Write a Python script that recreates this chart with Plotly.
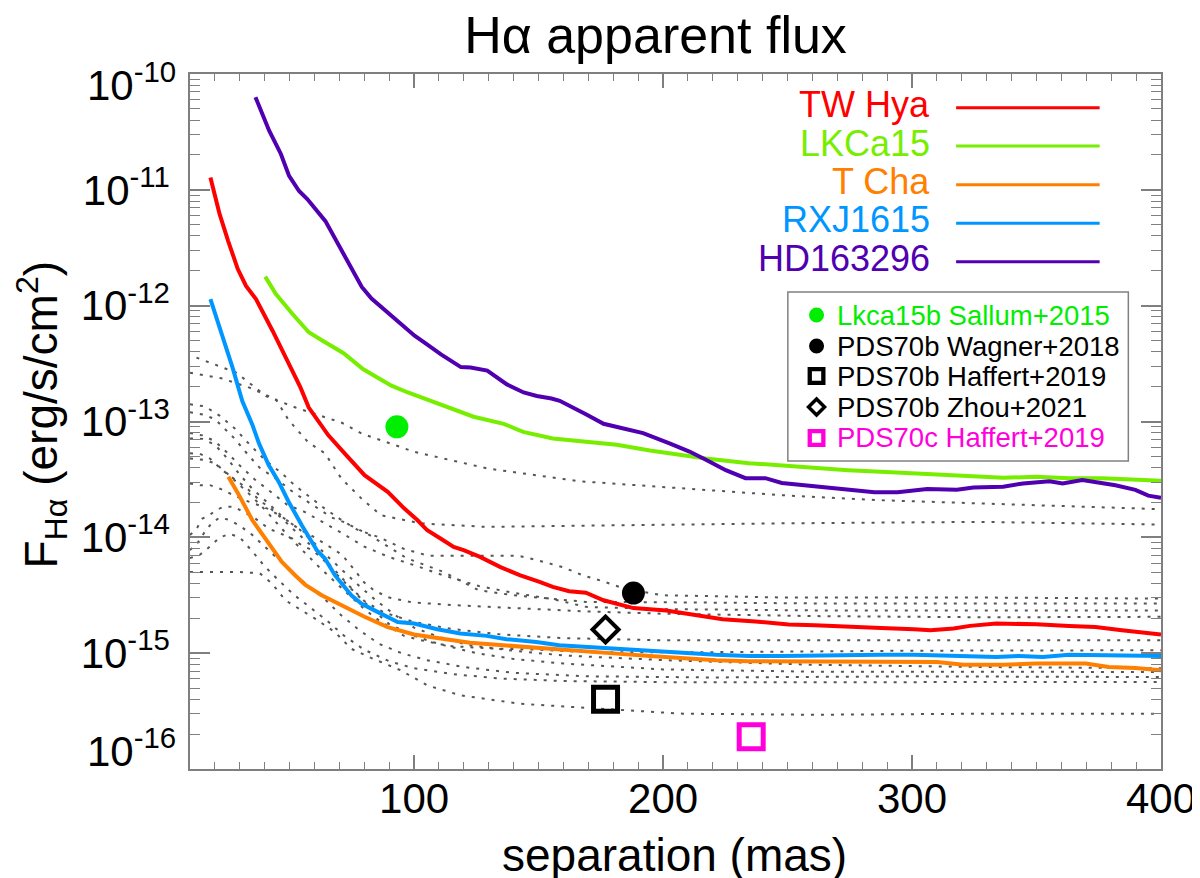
import plotly.graph_objects as go

FONT = "Liberation Sans, Arial, Helvetica, sans-serif"

# ---------------- data: separation (mas) / apparent H-alpha flux (erg/s/cm^2) -------------
tw_sep = [18.2, 21.9, 25.3, 29.2, 32.5, 36.5, 43.2, 49.8, 54.4, 57.7, 62.4, 65.5, 72.1, 80.1,
          89.4, 96.0, 101.3, 105.3, 110.6, 115.9, 119.9, 126.5, 134.5, 142.4, 150.4, 155.7,
          162.3, 169.0, 176.1, 188.1, 201.3, 211.9, 223.9, 237.1, 250.4, 261.0, 274.3, 287.5,
          300.8, 307.4, 316.7, 323.3, 333.9, 349.9, 363.1, 373.7, 384.3, 400]
tw_flux = [1.28e-11, 6.17e-12, 3.63e-12, 2.07e-12, 1.48e-12, 1.14e-12, 6.05e-13, 3.12e-13,
           1.96e-13, 1.32e-13, 9.44e-14, 7.64e-14, 5.31e-14, 3.44e-14, 2.47e-14, 1.78e-14,
           1.41e-14, 1.15e-14, 9.77e-15, 8.28e-15, 7.74e-15, 6.78e-15, 5.56e-15, 4.71e-15,
           4.12e-15, 3.73e-15, 3.43e-15, 3.33e-15, 2.86e-15, 2.45e-15, 2.34e-15, 2.15e-15,
           1.96e-15, 1.88e-15, 1.77e-15, 1.74e-15, 1.68e-15, 1.65e-15, 1.61e-15, 1.58e-15,
           1.63e-15, 1.72e-15, 1.80e-15, 1.78e-15, 1.72e-15, 1.68e-15, 1.58e-15, 1.45e-15]

lk_sep = [40.2, 44.5, 51.1, 57.7, 63.1, 71.7, 79.6, 90.9, 97.5, 102.8, 114.8, 123.9, 136.0,
          143.8, 155.7, 168.2, 181.4, 194.7, 208.0, 217.2, 234.5, 247.7, 261.0, 274.3, 287.5,
          300.8, 314.1, 323.3, 336.6, 349.9, 363.1, 376.4, 389.7, 400]
lk_flux = [1.78e-12, 1.26e-12, 8.51e-13, 5.89e-13, 5.01e-13, 3.89e-13, 2.82e-13, 2.04e-13,
           1.78e-13, 1.62e-13, 1.32e-13, 1.10e-13, 9.55e-14, 8.13e-14, 7.14e-14, 6.76e-14,
           6.31e-14, 5.62e-14, 5.13e-14, 4.79e-14, 4.37e-14, 4.17e-14, 3.94e-14, 3.80e-14,
           3.68e-14, 3.56e-14, 3.47e-14, 3.33e-14, 3.27e-14, 3.33e-14, 3.24e-14, 3.24e-14,
           3.12e-14, 3.08e-14]

tc_sep = [25.4, 29.7, 35.0, 40.3, 46.9, 52.2, 56.2, 62.9, 70.8, 80.1, 89.4, 100, 109.3, 122.5,
          135.8, 149.1, 162.3, 169, 181.4, 194.7, 207.9, 221.2, 234.5, 247.7, 261, 274.3,
          287.5, 300.8, 310.1, 320.7, 336.6, 349.9, 363.1, 369.8, 379.0, 389.7, 400]
tc_flux = [3.33e-14, 2.31e-14, 1.41e-14, 9.77e-15, 6.14e-15, 4.71e-15, 3.91e-15, 3.16e-15,
           2.59e-15, 2.06e-15, 1.68e-15, 1.45e-15, 1.35e-15, 1.23e-15, 1.17e-15, 1.11e-15,
           1.06e-15, 1.04e-15, 9.91e-16, 9.46e-16, 9.08e-16, 8.67e-16, 8.51e-16, 8.51e-16,
           8.39e-16, 8.51e-16, 8.39e-16, 8.39e-16, 8.39e-16, 7.96e-16, 7.96e-16, 8.13e-16,
           8.13e-16, 8.13e-16, 7.59e-16, 7.45e-16, 7.11e-16]

rx_sep = [18.2, 21.9, 27.1, 31.0, 35.0, 37.7, 41.6, 45.6, 49.6, 54.9, 60.9, 64.2, 68.2, 74.8,
          78.8, 84.1, 89.4, 93.4, 100, 109.3, 118.6, 129.2, 137.1, 149.1, 158.3, 169, 181.4,
          194.7, 207.9, 221.2, 234.5, 247.7, 261.0, 274.3, 287.5, 300.8, 314.1, 323.3, 333.9,
          343.2, 352.5, 363.1, 376.4, 389.7, 400]
rx_flux = [1.14e-12, 6.46e-13, 2.92e-13, 1.50e-13, 9.44e-14, 6.47e-14, 4.21e-14, 3.02e-14,
           2.03e-14, 1.27e-14, 7.76e-15, 6.56e-15, 4.71e-15, 3.16e-15, 2.68e-15, 2.34e-15,
           2.06e-15, 1.86e-15, 1.80e-15, 1.61e-15, 1.48e-15, 1.41e-15, 1.32e-15, 1.25e-15,
           1.17e-15, 1.13e-15, 1.08e-15, 1.04e-15, 1.01e-15, 9.70e-16, 9.46e-16, 9.46e-16,
           9.59e-16, 9.70e-16, 9.70e-16, 9.70e-16, 9.59e-16, 9.46e-16, 9.27e-16, 9.46e-16,
           9.27e-16, 9.70e-16, 9.59e-16, 9.46e-16, 9.46e-16]

hd_sep = [36.3, 41.8, 46.5, 49.8, 53.8, 57.1, 64.4, 71.0, 79.0, 82.9, 89.6, 94.9, 100.2, 104.2,
          110.8, 118.8, 122.7, 129.4, 137.3, 144.0, 149.3, 155.2, 158.5, 169.2, 176.1, 184.1,
          192.0, 202.6, 210.6, 217.2, 225.2, 233.1, 241.1, 247.7, 261.0, 274.3, 284.9, 294.2,
          306.1, 318.0, 324.7, 336.6, 344.6, 355.2, 360.5, 368.4, 376.4, 381.7, 389.7, 394.9, 400]
hd_flux = [6.31e-11, 3.24e-11, 2.04e-11, 1.32e-11, 9.77e-12, 8.32e-12, 5.37e-12, 2.95e-12,
           1.45e-12, 1.15e-12, 8.71e-13, 6.92e-13, 5.50e-13, 4.79e-13, 3.80e-13, 2.95e-13,
           2.92e-13, 2.75e-13, 2.09e-13, 1.78e-13, 1.66e-13, 1.58e-13, 1.51e-13, 1.15e-13,
           9.55e-14, 8.71e-14, 7.94e-14, 6.46e-14, 5.50e-14, 4.68e-14, 3.80e-14, 3.24e-14,
           3.24e-14, 2.95e-14, 2.75e-14, 2.57e-14, 2.45e-14, 2.45e-14, 2.61e-14, 2.57e-14,
           2.69e-14, 2.74e-14, 2.92e-14, 3.05e-14, 2.92e-14, 3.12e-14, 2.92e-14, 2.82e-14,
           2.57e-14, 2.29e-14, 2.19e-14]

# background (dotted) contrast curves of other targets
bg1_sep = [12.6, 28.6, 40.5, 52.4, 71.0, 78.8, 100, 129.2, 166.3, 208, 247.7, 287.5, 327.3, 400]
bg1_flux = [3.56e-13, 2.64e-13, 1.66e-13, 1.32e-13, 9.75e-14, 7.89e-14, 5.48e-14, 3.94e-14,
            3.05e-14, 2.64e-14, 2.31e-14, 2.09e-14, 1.96e-14, 1.75e-14]
bg2_sep = [10, 22.6, 33.9, 44.5, 49.6, 57.5, 64.2, 70.8, 78.8, 86.7, 102.6, 129.2, 167.6, 247.7,
           327.3, 400]
bg2_flux = [2.64e-13, 2.36e-13, 1.96e-13, 1.55e-13, 1.03e-13, 6.61e-14, 5.31e-14, 3.22e-14,
            2.17e-14, 1.55e-14, 1.32e-14, 1.23e-14, 1.26e-14, 1.32e-14, 1.36e-14, 1.29e-14]
bg3_sep = [10, 16, 22, 28, 34, 40, 47, 52, 58, 64, 70, 77, 86, 96, 106, 118, 130, 142, 150, 160,
           168, 176, 184, 200, 250, 330, 400]
bg3_flux = [1.41e-13, 1.35e-13, 1.12e-13, 8.71e-14, 6.31e-14, 4.68e-14, 3.55e-14, 2.82e-14,
            2.24e-14, 1.78e-14, 1.45e-14, 1.17e-14, 1.00e-14, 7.94e-15, 6.92e-15, 6.92e-15,
            6.92e-15, 6.92e-15, 6.31e-15, 5.50e-15, 4.68e-15, 4.17e-15, 3.63e-15, 3.16e-15,
            3.02e-15, 3.02e-15, 2.96e-15]
bg4_sep = [10, 15, 20, 24, 28, 33, 38, 45, 52, 60, 67, 72, 82, 97, 112, 126, 140, 155, 169, 200,
           260, 330, 400]
bg4_flux = [1.20e-13, 1.15e-13, 1.05e-13, 8.71e-14, 7.08e-14, 5.25e-14, 3.98e-14, 3.16e-14,
            2.40e-14, 1.86e-14, 1.48e-14, 1.35e-14, 1.05e-14, 6.61e-15, 5.01e-15, 3.49e-15,
            3.16e-15, 2.95e-15, 2.77e-15, 2.75e-15, 2.69e-15, 2.69e-15, 2.68e-15]
bg5_sep = [10, 15, 20, 25, 30, 36, 42, 49, 56, 62, 70, 80, 90, 100, 112, 126, 140, 155, 169, 200,
           260, 330, 400]
bg5_flux = [7.94e-14, 7.59e-14, 6.76e-14, 5.37e-14, 4.17e-14, 3.16e-14, 2.51e-14, 1.91e-14,
            1.66e-14, 1.41e-14, 1.12e-14, 8.32e-15, 6.76e-15, 5.75e-15, 4.68e-15, 3.80e-15,
            3.31e-15, 2.95e-15, 2.51e-15, 2.40e-15, 2.34e-15, 2.34e-15, 2.34e-15]
bg6_sep = [10, 15, 20, 25, 30, 35, 41, 48, 54, 60, 66, 71, 76, 80, 84, 90, 99, 112, 130, 150,
           170, 200, 260, 330, 400]
bg6_flux = [7.14e-14, 7.08e-14, 6.31e-14, 4.79e-14, 3.47e-14, 2.63e-14, 2.00e-14, 1.45e-14,
            1.17e-14, 1.00e-14, 8.32e-15, 7.08e-15, 5.25e-15, 4.07e-15, 3.47e-15, 3.02e-15,
            2.75e-15, 2.63e-15, 2.51e-15, 2.40e-15, 2.29e-15, 2.19e-15, 2.09e-15, 2.04e-15,
            2.06e-15]
bg7_sep = [10, 14, 18, 23, 28, 33, 38, 44, 50, 56, 62, 68, 74, 80, 88, 100, 115, 135, 160, 200,
           260, 330, 400]
bg7_flux = [5.31e-14, 5.25e-14, 4.79e-14, 3.80e-14, 3.16e-14, 2.63e-14, 2.09e-14, 1.66e-14,
            1.26e-14, 9.55e-15, 7.24e-15, 5.25e-15, 3.80e-15, 2.82e-15, 2.24e-15, 1.86e-15,
            1.62e-15, 1.45e-15, 1.35e-15, 1.29e-15, 1.29e-15, 1.30e-15, 1.29e-15]
bg8_sep = [10, 15, 20, 25, 30, 35, 40, 45, 50, 56, 62, 68, 74, 80, 86, 96, 105, 115, 130, 150,
           170, 220, 300, 400]
bg8_flux = [4.79e-14, 4.68e-14, 4.37e-14, 3.55e-14, 2.82e-14, 2.24e-14, 1.74e-14, 1.32e-14,
            1.00e-14, 7.41e-15, 5.50e-15, 4.17e-15, 3.16e-15, 2.40e-15, 1.91e-15, 1.41e-15,
            1.26e-15, 1.15e-15, 1.10e-15, 1.07e-15, 1.02e-15, 1.02e-15, 1.05e-15, 1.06e-15]
bg9_sep = [10, 14, 18, 22, 27, 32, 36, 42, 48, 54, 60, 66, 72, 78, 85, 93, 100, 110, 122, 140,
           160, 200, 260, 330, 400]
bg9_flux = [2.92e-14, 2.82e-14, 2.82e-14, 2.63e-14, 2.34e-14, 2.09e-14, 1.95e-14, 1.74e-14,
            1.45e-14, 1.17e-14, 8.91e-15, 6.61e-15, 5.01e-15, 3.80e-15, 2.82e-15, 2.09e-15,
            1.66e-15, 1.38e-15, 1.17e-15, 1.05e-15, 9.55e-16, 8.71e-16, 7.94e-16, 7.59e-16,
            7.41e-16]
bg10_sep = [10, 12.5, 15, 17.8, 20.4, 23.7, 27.7, 31.7, 36.3, 41.6, 47, 51, 55, 59, 63, 68, 75,
            82, 90, 100, 110, 125, 140, 160, 200, 260, 330, 400]
bg10_flux = [1.05e-14, 1.17e-14, 1.45e-14, 1.55e-14, 1.72e-14, 1.84e-14, 1.84e-14, 1.66e-14,
             1.45e-14, 1.19e-14, 1.07e-14, 9.77e-15, 8.51e-15, 7.76e-15, 6.61e-15, 5.01e-15,
             3.55e-15, 2.51e-15, 1.78e-15, 1.41e-15, 1.20e-15, 1.00e-15, 8.91e-16, 8.13e-16,
             7.24e-16, 6.92e-16, 6.92e-16, 6.87e-16]
bg11_sep = [10, 13, 16, 19, 22, 26, 30, 35, 40, 46, 52, 58, 64, 70, 78, 86, 95, 105, 120, 140,
            170, 220, 300, 400]
bg11_flux = [7.76e-15, 8.91e-15, 1.12e-14, 1.35e-14, 1.48e-14, 1.41e-14, 1.26e-14, 1.05e-14,
             8.32e-15, 6.31e-15, 4.79e-15, 3.72e-15, 2.95e-15, 2.19e-15, 1.58e-15, 1.20e-15,
             1.00e-15, 8.71e-16, 7.59e-16, 6.76e-16, 6.31e-16, 6.17e-16, 6.31e-16, 6.22e-16]
bg12_sep = [10, 14, 18, 22, 26, 30, 35, 40, 46, 52, 58, 65, 72, 80, 90, 100, 115, 135, 160, 200,
            280, 400]
bg12_flux = [6.61e-15, 7.08e-15, 8.32e-15, 1.00e-14, 1.07e-14, 1.00e-14, 7.59e-15, 5.62e-15,
             4.17e-15, 3.16e-15, 2.51e-15, 1.91e-15, 1.41e-15, 1.07e-15, 8.51e-16, 7.41e-16,
             6.61e-16, 6.03e-16, 5.75e-16, 5.62e-16, 5.62e-16, 5.64e-16]
bg13_sep = [10, 20, 30, 38, 43, 48.3, 54, 60.2, 68.2, 74.8, 83.4, 94.7, 105.3, 118.6, 142.4, 169,
            208, 261, 327.3, 400]
bg13_flux = [5.01e-15, 5.01e-15, 5.01e-15, 4.90e-15, 3.98e-15, 2.86e-15, 2.40e-15, 1.99e-15,
             1.52e-15, 1.09e-15, 8.97e-16, 7.11e-16, 5.27e-16, 4.33e-16, 3.66e-16, 3.36e-16,
             3.00e-16, 2.94e-16, 3.00e-16, 3.00e-16]

# companion detections
pt_names = ["Lkca15b Sallum+2015", "PDS70b Wagner+2018", "PDS70b Haffert+2019",
            "PDS70b Zhou+2021", "PDS70c Haffert+2019"]
pt_sep = [93.1, 188.1, 176.9, 176.9, 235.4]
pt_flux = [9.0e-14, 3.3e-15, 4.0e-16, 1.6e-15, 1.9e-16]

curve_names = ["TW Hya", "LKCa15", "T Cha", "RXJ1615", "HD163296"]
y_tick_vals = [1e-16, 1e-15, 1e-14, 1e-13, 1e-12, 1e-11, 1e-10]
y_tick_text = ["", "10<sup>-15</sup>", "10<sup>-14</sup>", "10<sup>-13</sup>",
               "10<sup>-12</sup>", "10<sup>-11</sup>", ""]
x_tick_vals = [100, 200, 300, 400]
x_tick_text = ["100", "200", "300", "400"]

# ---------------- styling ----------------
C_RED, C_LIME, C_ORANGE, C_BLUE, C_PURPLE = "#ff0000", "#77ee00", "#ff8000", "#0096ff", "#5000b0"
curve_colors = [C_RED, C_LIME, C_ORANGE, C_BLUE, C_PURPLE]
pt_colors = ["#00ee00", "black", "black", "black", "#ff00dd"]
pt_symbols = ["circle", "circle", "square-open", "diamond-open", "square-open"]
pt_sizes = [23, 23, 24, 20, 24]
AX = "#7f7f7f"

W, H = 1200, 878
ML, MR, MT, MB = 182, 37, 66, 117
PW, PH = W - ML - MR, H - MT - MB


def fx(px):
    return (px - ML) / PW


def fy(py):
    return (MT + PH - py) / PH


fig = go.Figure()

bg_sets = [(bg1_sep, bg1_flux), (bg2_sep, bg2_flux), (bg3_sep, bg3_flux), (bg4_sep, bg4_flux),
           (bg5_sep, bg5_flux), (bg6_sep, bg6_flux), (bg7_sep, bg7_flux), (bg8_sep, bg8_flux),
           (bg9_sep, bg9_flux), (bg10_sep, bg10_flux), (bg11_sep, bg11_flux),
           (bg12_sep, bg12_flux), (bg13_sep, bg13_flux)]
for sx, sy in bg_sets:
    fig.add_trace(go.Scatter(x=sx, y=sy, mode="lines", showlegend=False, hoverinfo="skip",
                             line=dict(color="#555555", width=2, dash="3px,7px")))

main_sets = [(tw_sep, tw_flux), (lk_sep, lk_flux), (tc_sep, tc_flux), (rx_sep, rx_flux),
             (hd_sep, hd_flux)]
for (sx, sy), nm, col in zip(main_sets, curve_names, curve_colors):
    fig.add_trace(go.Scatter(x=sx, y=sy, mode="lines", name=nm, showlegend=False,
                             line=dict(color=col, width=4)))

for i in range(len(pt_names)):
    open_sym = pt_symbols[i].endswith("open")
    fig.add_trace(go.Scatter(
        x=[pt_sep[i]], y=[pt_flux[i]], mode="markers", name=pt_names[i], showlegend=False,
        marker=dict(symbol=pt_symbols[i], size=pt_sizes[i], color=pt_colors[i],
                    line=dict(width=5 if pt_symbols[i] == "square-open" else (4 if open_sym else 0),
                              color=pt_colors[i]))))

annotations = []
shapes = []

# line legend (text on the left, sample line on the right)
row_text_y = [97, 135, 173.5, 211.5, 250]
row_line_y = [99.7, 138, 176.7, 215.3, 253.7]
for nm, col, ty, ly in zip(curve_names, curve_colors, row_text_y, row_line_y):
    annotations.append(dict(xref="paper", yref="paper", x=fx(932), y=fy(ty), xanchor="right",
                            yanchor="middle", text=nm, showarrow=False,
                            font=dict(family=FONT, size=36, color=col)))
    shapes.append(dict(type="line", xref="paper", yref="paper", x0=fx(956), x1=fx(1101),
                       y0=fy(ly), y1=fy(ly), line=dict(color=col, width=3)))

# symbol legend box
shapes.append(dict(type="rect", xref="paper", yref="paper", x0=fx(786), x1=fx(1130),
                   y0=fy(453), y1=fy(284), line=dict(color="#808080", width=1.5),
                   fillcolor="rgba(0,0,0,0)", layer="above"))
sym_rows = [307, 338, 368, 399, 430]
sym_x = 815
for i, ry in enumerate(sym_rows):
    base = dict(xref="paper", yref="paper", xsizemode="pixel", ysizemode="pixel",
                xanchor=fx(sym_x), yanchor=fy(ry), layer="above")
    sym = pt_symbols[i]
    if sym == "circle":
        shapes.append(dict(base, type="circle", x0=-7.5, x1=7.5, y0=-7.5, y1=7.5,
                           fillcolor=pt_colors[i], line=dict(width=0)))
    elif sym == "square-open":
        shapes.append(dict(base, type="rect", x0=-6.8, x1=6.8, y0=-6.8, y1=6.8,
                           fillcolor="rgba(0,0,0,0)", line=dict(color=pt_colors[i], width=4.3)))
    else:
        shapes.append(dict(base, type="path", path="M 0 -8 L 8 0 L 0 8 L -8 0 Z",
                           fillcolor="rgba(0,0,0,0)", line=dict(color=pt_colors[i], width=3.5)))
    annotations.append(dict(xref="paper", yref="paper", x=fx(834), y=fy(ry), xanchor="left",
                            yanchor="middle", text=pt_names[i], showarrow=False,
                            font=dict(family=FONT, size=27.5, color=pt_colors[i])))

# end labels of the y axis (drawn inward, as in the original)
annotations.append(dict(xref="paper", yref="paper", x=fx(170), y=fy(74), xanchor="right",
                        yanchor="middle", text="10<sup>-10</sup>", showarrow=False,
                        font=dict(family=FONT, size=42, color="black")))
annotations.append(dict(xref="paper", yref="paper", x=fx(170), y=fy(740), xanchor="right",
                        yanchor="middle", text="10<sup>-16</sup>", showarrow=False,
                        font=dict(family=FONT, size=42, color="black")))

# axis titles
annotations.append(dict(xref="paper", yref="paper", x=fx(671), y=fy(847), xanchor="center",
                        yanchor="middle", text="separation (mas)", showarrow=False,
                        font=dict(family=FONT, size=46, color="black")))
annotations.append(dict(xref="paper", yref="paper", x=fx(31), y=fy(407), xanchor="center",
                        yanchor="middle", textangle=-90,
                        text="F<sub>Hα</sub> (erg/s/cm<sup>2</sup>)", showarrow=False,
                        font=dict(family=FONT, size=46, color="black")))

axis_common = dict(showline=True, mirror="ticks", linecolor=AX, linewidth=1.5,
                   ticks="inside", tickcolor=AX, tickwidth=1.5, showgrid=False, zeroline=False,
                   tickfont=dict(family=FONT, size=42, color="black"))

fig.update_layout(
    width=W, height=H, autosize=False,
    margin=dict(l=ML, r=MR, t=MT, b=MB),
    paper_bgcolor="white", plot_bgcolor="white",
    title=dict(text="Hα apparent flux", x=647.5 / W, xanchor="center", xref="container",
               y=1 - 27 / H, yanchor="middle", yref="container",
               font=dict(family=FONT, size=52, color="black")),
    xaxis=dict(axis_common, range=[10, 400], tickmode="array", tickvals=x_tick_vals,
               ticktext=x_tick_text, ticklen=14, ticklabelstandoff=-8,
               minor=dict(ticks="inside", ticklen=7, tickcolor=AX, tickwidth=1.2,
                          tickmode="linear", tick0=0, dtick=10, showgrid=False)),
    yaxis=dict(axis_common, type="log", range=[-16, -10], tickmode="array",
               tickvals=y_tick_vals, ticktext=y_tick_text, ticklen=20, ticklabelstandoff=10,
               minor=dict(ticks="inside", ticklen=10, tickcolor=AX, tickwidth=1.2,
                          tickmode="array",
                          tickvals=[m * 10.0 ** e for e in range(-16, -10) for m in range(2, 10)],
                          showgrid=False)),
    annotations=annotations,
    shapes=shapes,
    showlegend=False,
)

fig.write_html("out.html")
